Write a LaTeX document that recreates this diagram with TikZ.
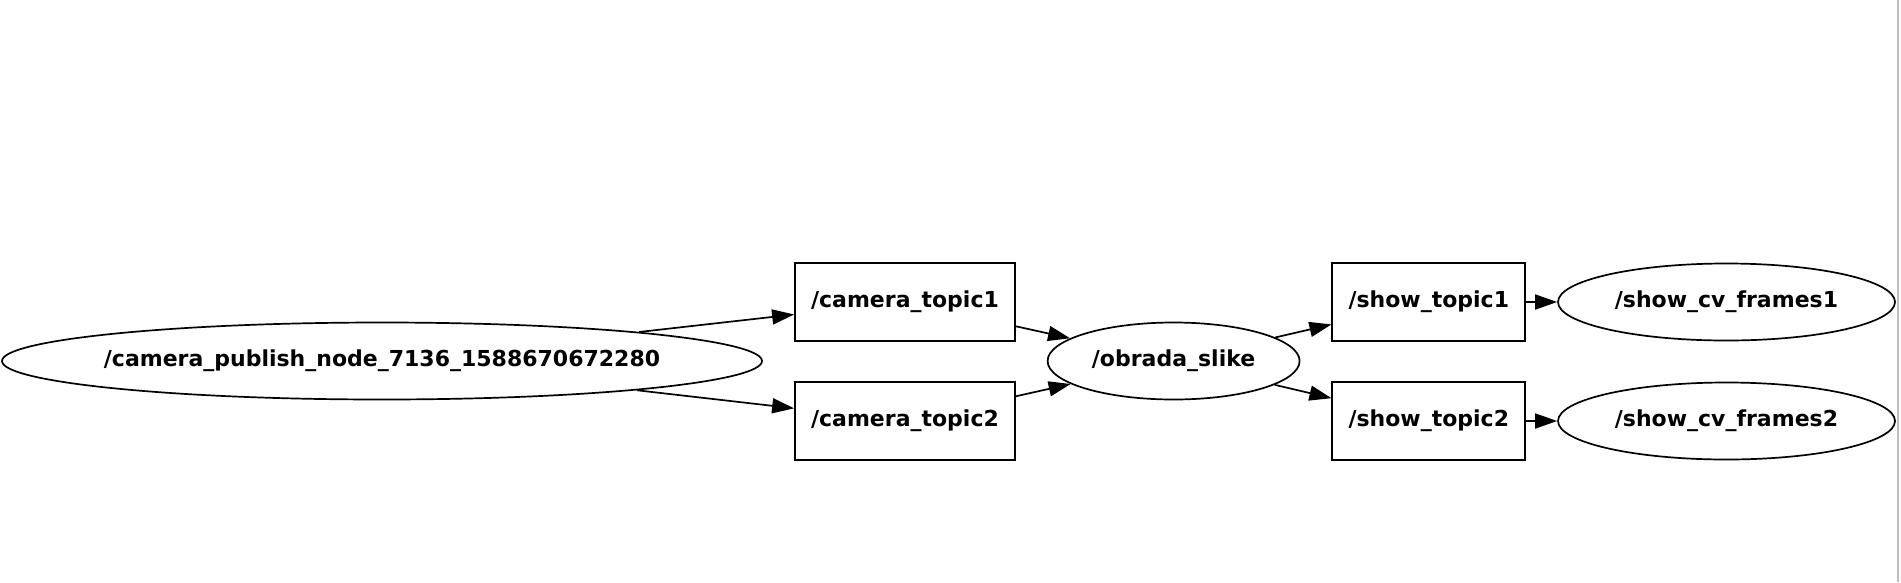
\documentclass[tikz,border=0pt]{standalone}
\usepackage{fontspec}
\setmainfont{DejaVu Sans}
\usetikzlibrary{shapes.geometric,arrows.meta}
\newcommand{\zwlabel}[1]{\makebox[0pt][c]{#1}}
\tikzset{
  nodeell/.style={ellipse, draw=black, line width=1.7pt, inner sep=0pt, minimum height=77pt, font=\fontsize{22}{26}\selectfont\bfseries},
  topicbox/.style={rectangle, draw=black, line width=1.7pt, inner sep=0pt, minimum height=78pt, font=\fontsize{22}{26}\selectfont\bfseries},
  conn/.style={line width=1.7pt, -{Triangle[length=22pt,width=15pt]}}
}
\begin{document}
\begin{tikzpicture}[x=1pt,y=-1pt]
\fill[white] (0,0) rectangle (1901,582);
\useasboundingbox (0,0) rectangle (1901,582);
\draw[black!25, line width=2pt] (1898,0) -- (1898,582);
\node[nodeell, minimum width=760pt] (cpn) at (382,361) {\zwlabel{/camera\_publish\_node\_7136\_1588670672280}};
\node[topicbox, minimum width=220pt] (ct1) at (905,302) {/camera\_topic1};
\node[topicbox, minimum width=220pt] (ct2) at (905,421) {/camera\_topic2};
\node[nodeell, minimum width=252pt] (obr) at (1173.6,361) {\zwlabel{/obrada\_slike}};
\node[topicbox, minimum width=193pt] (st1) at (1428.8,302) {/show\_topic1};
\node[topicbox, minimum width=193pt] (st2) at (1428.8,421) {/show\_topic2};
\node[nodeell, minimum width=337pt] (sf1) at (1726.5,302) {\zwlabel{/show\_cv\_frames1}};
\node[nodeell, minimum width=337pt] (sf2) at (1726.5,421) {\zwlabel{/show\_cv\_frames2}};
\draw[conn] (cpn) -- (ct1);
\draw[conn] (cpn) -- (ct2);
\draw[conn] (ct1) -- (obr);
\draw[conn] (ct2) -- (obr);
\draw[conn] (obr) -- (st1);
\draw[conn] (obr) -- (st2);
\draw[conn] (st1) -- (sf1);
\draw[conn] (st2) -- (sf2);
\end{tikzpicture}
\end{document}
